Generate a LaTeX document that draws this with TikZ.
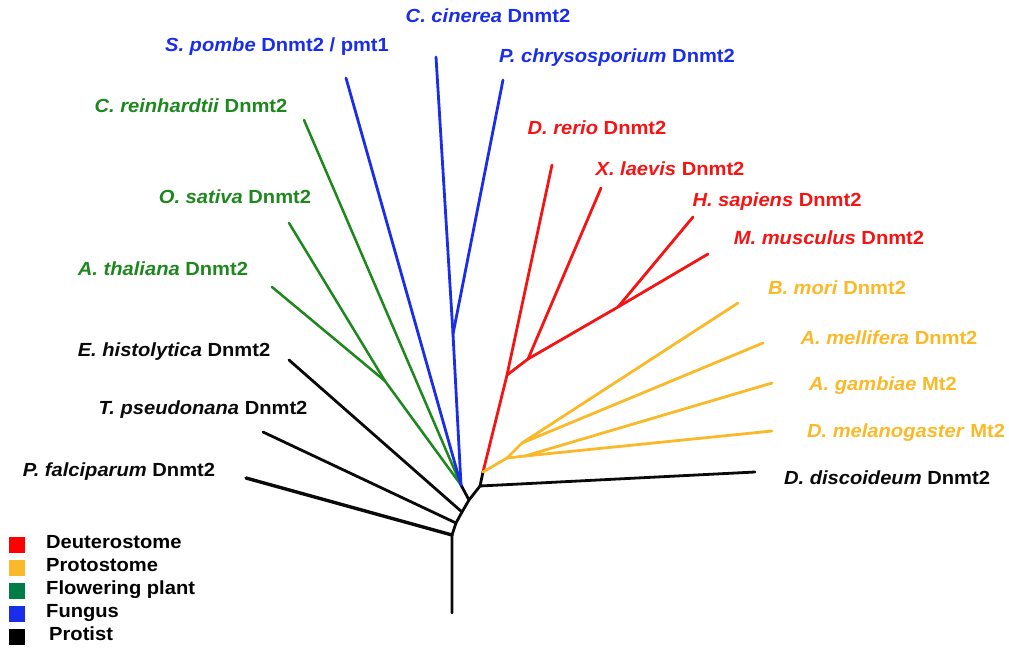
\documentclass[tikz,border=0pt]{standalone}
\usepackage{fontspec}
\setmainfont[FakeStretch=1.06]{Liberation Sans}
\begin{document}
\begin{tikzpicture}[x=1pt,y=-1pt,
  br/.style={line width=2.8pt,line cap=round},
  lab/.style={font=\fontsize{19}{21}\selectfont\bfseries,inner sep=0pt,text height=1.5ex,text depth=0.25ex,anchor=center},
  leg/.style={font=\fontsize{19}{21}\selectfont\bfseries,inner sep=0pt,text height=1.5ex,text depth=0.25ex,anchor=west},
  sq/.style={minimum size=16pt,inner sep=0pt}]
\definecolor{cR}{RGB}{245,20,20}
\definecolor{cO}{RGB}{250,185,40}
\definecolor{cG}{RGB}{30,135,30}
\definecolor{cB}{RGB}{25,45,235}
\definecolor{cK}{RGB}{10,10,10}
\definecolor{lG}{RGB}{0,125,70}
\useasboundingbox (0,0) rectangle (1009,651);
% internal coordinates
\coordinate (root) at (452,613);
\coordinate (n1) at (452,535);
\coordinate (n2) at (456,523);
\coordinate (n3) at (462,512);
\coordinate (n4) at (469,500);
\coordinate (pf) at (461,485);
\coordinate (n5) at (480,486);
\coordinate (n6) at (483,472);
\coordinate (pfal) at (246,478);
\coordinate (tps) at (263,432);
\coordinate (ehi) at (289,360);
\coordinate (ddi) at (755,472);
\coordinate (fung) at (453,334);
\coordinate (cci) at (436,57);
\coordinate (pch) at (503,80);
\coordinate (spo) at (346,78);
\coordinate (cre) at (304,120);
\coordinate (gr) at (385,381);
\coordinate (osa) at (289,223);
\coordinate (ath) at (272,287);
\coordinate (r1) at (507,375);
\coordinate (dre) at (552,165);
\coordinate (r2) at (528,359);
\coordinate (xla) at (601,188);
\coordinate (r3) at (618,307);
\coordinate (hsa) at (693,217);
\coordinate (mmu) at (708,254);
\coordinate (o1) at (507,458);
\coordinate (o2) at (522,443);
\coordinate (bmo) at (738,303);
\coordinate (ame) at (763,343);
\coordinate (o3) at (525,456);
\coordinate (aga) at (772,383);
\coordinate (dme) at (772,431);
% black
\draw[br,cK] (root) -- (n1) -- (n2) -- (n3) -- (n4) -- (n5) -- (n6);
\draw[br,cK,line width=3.4pt] (n1) -- (pfal);
\draw[br,cK] (n2) -- (tps);
\draw[br,cK] (n3) -- (ehi);
\draw[br,cK] (n4) -- (pf);
\draw[br,cK] (n5) -- (ddi);
% green
\draw[br,cG,line width=2.5pt] (pf) -- (cre);
\draw[br,cG,line width=2.5pt] (pf) -- (gr) -- (osa);
\draw[br,cG,line width=2.5pt] (gr) -- (ath);
% blue
\draw[br,cB] (pf) -- (spo);
\draw[br,cB] (pf) -- (fung) -- (cci);
\draw[br,cB] (fung) -- (pch);
% red
\draw[br,cR] (n6) -- (r1) -- (dre);
\draw[br,cR] (r1) -- (r2) -- (xla);
\draw[br,cR] (r2) -- (r3) -- (hsa);
\draw[br,cR] (r3) -- (mmu);
% orange
\draw[br,cO] (n6) -- (o1) -- (o2) -- (bmo);
\draw[br,cO] (o2) -- (ame);
\draw[br,cO] (o1) -- (o3) -- (aga);
\draw[br,cO] (o3) -- (dme);
% labels
\node[lab,cB] (Lcci) at (488,19) {\textit{C. cinerea} Dnmt2};
\node[lab,cB] (Lspo) at (277,48) {\textit{S. pombe} Dnmt2 / pmt1};
\node[lab,cB] (Lpch) at (617,59) {\textit{P. chrysosporium} Dnmt2};
\node[lab,cG] (Lcre) at (191,109) {\textit{C. reinhardtii} Dnmt2};
\node[lab,cG] (Losa) at (235,200) {\textit{O. sativa} Dnmt2};
\node[lab,cG] (Lath) at (163,272) {\textit{A. thaliana} Dnmt2};
\node[lab,cR] (Ldre) at (597,131) {\textit{D. rerio} Dnmt2};
\node[lab,cR] (Lxla) at (670,172) {\textit{X. laevis} Dnmt2};
\node[lab,cR] (Lhsa) at (777,203) {\textit{H. sapiens} Dnmt2};
\node[lab,cR] (Lmmu) at (829,241) {\textit{M. musculus} Dnmt2};
\node[lab,cO] (Lbmo) at (837,291) {\textit{B. mori} Dnmt2};
\node[lab,cO] (Lame) at (889,341) {\textit{A. mellifera} Dnmt2};
\node[lab,cO] (Laga) at (883,387) {\textit{A. gambiae} Mt2};
\node[lab,cO] (Ldme) at (906,434) {\textit{D. melanogaster} Mt2};
\node[lab,cK] (Lddi) at (887,481) {\textit{D. discoideum} Dnmt2};
\node[lab,cK] (Lehi) at (174,353) {\textit{E. histolytica} Dnmt2};
\node[lab,cK] (Ltps) at (203,411) {\textit{T. pseudonana} Dnmt2};
\node[lab,cK] (Lpfa) at (119,473) {\textit{P. falciparum} Dnmt2};
% legend
\node[sq,fill=red] (s1) at (17,545) {};
\node[sq,fill=cO] (s2) at (17,568) {};
\node[sq,fill=lG] (s3) at (17,591) {};
\node[sq,fill=cB] (s4) at (17,614) {};
\node[sq,fill=black] (s5) at (17,637) {};
\node[leg] (t1) at (46,545) {Deuterostome};
\node[leg] (t2) at (46,568) {Protostome};
\node[leg] (t3) at (46,591) {Flowering plant};
\node[leg] (t4) at (46,614) {Fungus};
\node[leg] (t5) at (49,637) {Protist};
\end{tikzpicture}
\end{document}
